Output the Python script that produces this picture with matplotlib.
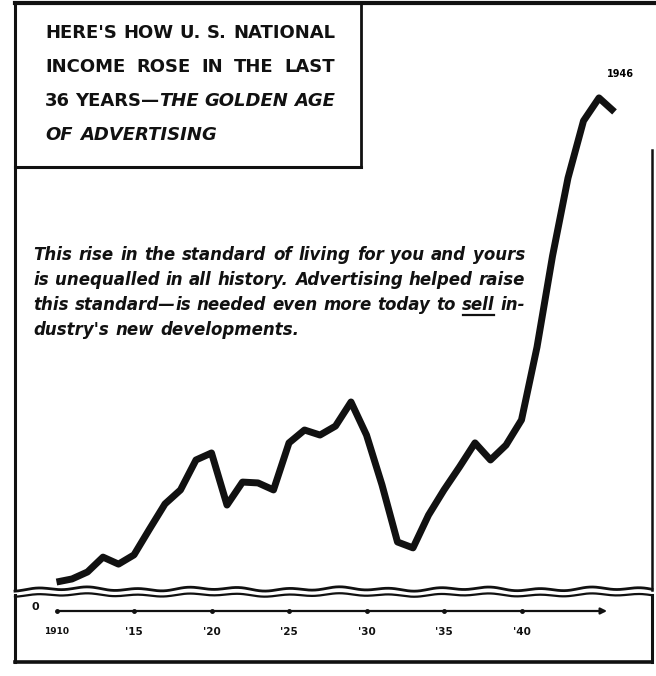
import numpy as np
import matplotlib
matplotlib.use("Agg")
import matplotlib.pyplot as plt

# U.S. national income, billions of dollars
years = list(range(1910, 1947))
income = [8.2, 9.3, 11.8, 17.1, 14.6, 17.9, 27.1, 36.1, 41.1, 51.8,
          54.3, 35.7, 43.9, 43.6, 41.1, 57.9, 62.5, 60.7, 63.9, 72.5,
          60.7, 42.9, 22.5, 20.4, 32.1, 41.1, 49.3, 57.9, 51.8, 57.1,
          66.1, 92.1, 124.6, 152.5, 172.9, 181.1, 176.1]
tick_years = [1910, 1915, 1920, 1925, 1930, 1935, 1940]
tick_labels = ["1910", "'15", "'20", "'25", "'30", "'35", "'40"]

title_lines = [
    [("HERE'S", "normal"), ("HOW", "normal"), ("U.", "normal"), ("S.", "normal"), ("NATIONAL", "normal")],
    [("INCOME", "normal"), ("ROSE", "normal"), ("IN", "normal"), ("THE", "normal"), ("LAST", "normal")],
    [("36", "normal"), ("YEARS—", "normal"), ("THE", "italic"), ("GOLDEN", "italic"), ("AGE", "italic")],
    [("OF", "italic"), ("ADVERTISING", "italic")],
]
body_lines = [
    "This rise in the standard of living for you and yours",
    "is unequalled in all history. Advertising helped raise",
    "this standard— is needed even more today to sell in-",
    "dustry's new developments.",
]

W, H = 656, 676
fig = plt.figure(figsize=(W / 100, H / 100), dpi=100)
fig.patch.set_facecolor("white")

# overlay in pixel units for the frame and the text
bg = fig.add_axes([0, 0, 1, 1])
bg.set_xlim(0, W)
bg.set_ylim(H, 0)
bg.axis("off")

# pixel layout of the plot
x1910, px_year = 56.5, 15.5
y_zero, px_unit = 605, 2.8
left, right, top, bottom = 15, 652, 3, 590

ax = fig.add_axes([left / W, 1 - bottom / H, (right - left) / W, (bottom - top) / H])
ax.set_xlim(1910 + (left - x1910) / px_year, 1910 + (right - x1910) / px_year)
ax.set_ylim((y_zero - bottom) / px_unit, (y_zero - top) / px_unit)
ax.axis("off")
ax.patch.set_alpha(0)
ax.plot(years, income, color="#111111", lw=5, solid_joinstyle="round", solid_capstyle="butt")
ax.annotate(str(years[-1]), (years[-1], income[-1]), xytext=(4, 27), textcoords="offset points",
            ha="center", va="center", fontsize=7, fontweight="bold")

# frame
k = "#111111"
bg.plot([left, W], [top, top], color=k, lw=3)
bg.plot([left, left], [top, bottom], color=k, lw=2.2)
bg.plot([361, 361], [top, 167], color=k, lw=2)
bg.plot([left, 361], [167, 167], color=k, lw=2.2)
bg.plot([right, right], [150, bottom], color=k, lw=1.8)
xs = np.linspace(left, right, 400)
wave = 1.3 * np.sin(xs / 8.0) + 0.9 * np.sin(xs / 21.0 + 1.0)
bg.plot(xs, bottom - 1 + wave, color=k, lw=2)
bg.plot(xs, bottom + 5 + wave * 0.8, color=k, lw=1.6)

# bottom scale box
bg.plot([left, left], [bottom + 5, 662], color=k, lw=2.2)
bg.plot([right, right], [bottom + 5, 662], color=k, lw=2.2)
bg.plot([left, right], [662, 662], color=k, lw=2.6)

ax2 = fig.add_axes([left / W, 1 - 662 / H, (right - left) / W, (662 - 597) / H])
ax2.set_xlim(ax.get_xlim())
ax2.set_ylim(662, 597)
ax2.axis("off")
ax2.patch.set_alpha(0)
ax2.annotate("", xy=(1945.7, 611), xytext=(1910, 611),
             arrowprops=dict(arrowstyle="-|>", lw=1.6, color=k, mutation_scale=9))
ax2.plot(tick_years, [611] * len(tick_years), "o", color=k, ms=2.5)
for yr, lab in zip(tick_years, tick_labels):
    ax2.text(yr, 632, lab, ha="center", va="center", fontsize=6.5 if yr == 1910 else 7.5,
             fontweight="bold", color=k)
bg.text(35, 607, "0", ha="center", va="center", fontsize=8, fontweight="bold", color=k)

renderer = fig.canvas.get_renderer()


def put_line(tokens, x0, x1, y, size, justify):
    arts = [bg.text(0, y, w, fontsize=size, fontweight="heavy", style=st, va="center",
                    ha="left", color=k) for w, st in tokens]
    widths = [t.get_window_extent(renderer).width for t in arts]
    glue = [w.endswith("—") for w, _ in tokens]
    gaps = sum(1 for g in glue[:-1] if not g)
    space = size * 100 / 72 * 0.4
    if justify and gaps:
        space = (x1 - x0 - sum(widths)) / gaps
    x = x0
    for t, w, g in zip(arts, widths, glue):
        t.set_x(x)
        x += w + (0 if g else space)
    return arts


for i, toks in enumerate(title_lines):
    put_line(toks, 45, 335, 33 + 34 * i, 13, i < 3)

for i, line in enumerate(body_lines):
    toks = [(w, "italic") for w in line.split()]
    arts = put_line(toks, 33, 525, 255 + 25 * i, 12, i < 3)
    for t in arts:
        if t.get_text() == "sell":
            bb = t.get_window_extent(renderer)
            bg.plot([bb.x0 + 1, bb.x1 - 1], [255 + 25 * i + 10] * 2, color=k, lw=1.6)

fig.savefig("out.png", dpi=100, facecolor="white")
